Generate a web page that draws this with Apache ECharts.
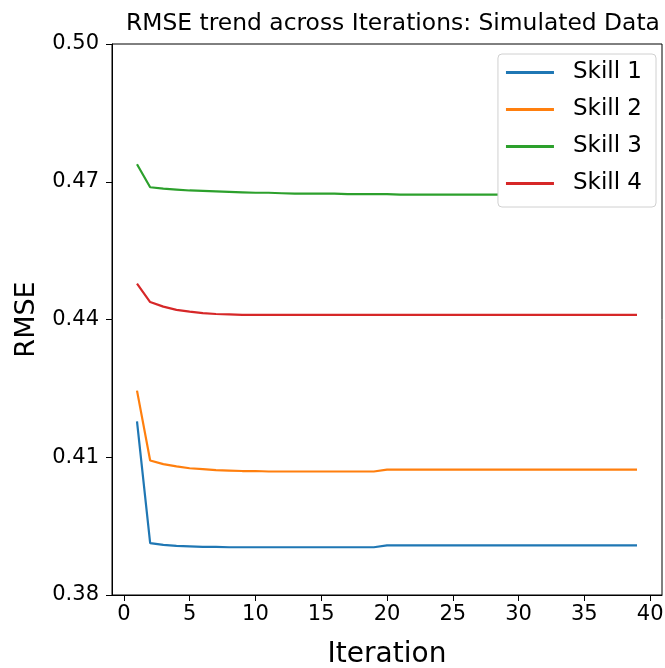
<!DOCTYPE html>
<html>
<head>
<meta charset="utf-8">
<script src="https://cdn.jsdelivr.net/npm/echarts@6/dist/echarts.min.js"></script>
<style>
  html, body { margin: 0; padding: 0; background: #fff; }
  #chart { width: 665px; height: 668px; }
</style>
</head>
<body>
<div id="chart"></div>
<script>
const iterations = Array.from({ length: 39 }, (_, i) => i + 1);

const skillNames = ['Skill 1', 'Skill 2', 'Skill 3', 'Skill 4'];
const skillColors = ['#1f77b4', '#ff7f0e', '#2ca02c', '#d62728'];

const skill1 = [
  0.4178, 0.3913, 0.3909, 0.3907, 0.3906, 0.3905, 0.3905, 0.3904, 0.3904, 0.3904,
  0.3904, 0.3904, 0.3904, 0.3904, 0.3904, 0.3904, 0.3904, 0.3904, 0.3904, 0.3908,
  0.3908, 0.3908, 0.3908, 0.3908, 0.3908, 0.3908, 0.3908, 0.3908, 0.3908, 0.3908,
  0.3908, 0.3908, 0.3908, 0.3908, 0.3908, 0.3908, 0.3908, 0.3908, 0.3908
];
const skill2 = [
  0.4245, 0.4093, 0.4085, 0.4080, 0.4076, 0.4074, 0.4072, 0.4071, 0.4070, 0.4070,
  0.4069, 0.4069, 0.4069, 0.4069, 0.4069, 0.4069, 0.4069, 0.4069, 0.4069, 0.4073,
  0.4073, 0.4073, 0.4073, 0.4073, 0.4073, 0.4073, 0.4073, 0.4073, 0.4073, 0.4073,
  0.4073, 0.4073, 0.4073, 0.4073, 0.4073, 0.4073, 0.4073, 0.4073, 0.4073
];
const skill3 = [
  0.4738, 0.4688, 0.4685, 0.4683, 0.4681, 0.4680, 0.4679, 0.4678, 0.4677, 0.4676,
  0.4676, 0.4675, 0.4674, 0.4674, 0.4674, 0.4674, 0.4673, 0.4673, 0.4673, 0.4673,
  0.4672, 0.4672, 0.4672, 0.4672, 0.4672, 0.4672, 0.4672, 0.4672, 0.4672, 0.4672,
  0.4672, 0.4672, 0.4672, 0.4672, 0.4672, 0.4672, 0.4672, 0.4672, 0.4672
];
const skill4 = [
  0.4478, 0.4438, 0.4428, 0.4421, 0.4417, 0.4414, 0.4412, 0.4411, 0.4410, 0.4410,
  0.4410, 0.4410, 0.4410, 0.4410, 0.4410, 0.4410, 0.4410, 0.4410, 0.4410, 0.4410,
  0.4410, 0.4410, 0.4410, 0.4410, 0.4410, 0.4410, 0.4410, 0.4410, 0.4410, 0.4410,
  0.4410, 0.4410, 0.4410, 0.4410, 0.4410, 0.4410, 0.4410, 0.4410, 0.4410
];
const skillValues = [skill1, skill2, skill3, skill4];

const xTicks = [0, 5, 10, 15, 20, 25, 30, 35, 40];
const yTicks = [0.38, 0.41, 0.44, 0.47, 0.50];

const font = 'DejaVu Sans';
const chart = echarts.init(document.getElementById('chart'));

chart.setOption({
  animation: false,
  title: {
    text: 'RMSE trend across Iterations: Simulated Data',
    left: 388,
    top: 7,
    textAlign: 'center',
    textStyle: { fontFamily: font, fontSize: 23.4, fontWeight: 'normal', color: '#000' }
  },
  grid: {
    left: 112, right: 3, top: 44, bottom: 73,
    outerBoundsMode: 'none',
    containLabel: false,
    show: true, borderColor: '#000', borderWidth: 1
  },
  legend: {
    orient: 'vertical',
    right: 9,
    top: 54,
    padding: [7, 14, 12, 8],
    itemGap: 14,
    itemWidth: 48,
    itemHeight: 3,
    icon: 'rect',
    backgroundColor: '#fff',
    borderColor: '#d0d0d0',
    borderWidth: 1,
    borderRadius: 4,
    textStyle: { fontFamily: font, fontSize: 23, lineHeight: 23, color: '#000', padding: [0, 0, 0, 14] },
    data: skillNames
  },
  xAxis: {
    type: 'value',
    min: -0.9,
    max: 40.9,
    name: 'Iteration',
    nameLocation: 'middle',
    nameGap: 46,
    nameTextStyle: { fontFamily: font, fontSize: 28, color: '#000' },
    axisLine: { show: true, onZero: false, lineStyle: { color: '#000' } },
    axisTick: { show: true, length: 6, lineStyle: { color: '#000' }, customValues: xTicks },
    axisLabel: { fontFamily: font, fontSize: 21, color: '#000', margin: 9, customValues: xTicks },
    splitLine: { show: false }
  },
  yAxis: {
    type: 'value',
    min: 0.38,
    max: 0.50,
    name: 'RMSE',
    nameLocation: 'middle',
    nameGap: 72,
    nameTextStyle: { fontFamily: font, fontSize: 27, color: '#000' },
    axisLine: { show: true, onZero: false, lineStyle: { color: '#000' } },
    axisTick: { show: true, length: 6, lineStyle: { color: '#000' }, customValues: yTicks },
    axisLabel: {
      fontFamily: font, fontSize: 21, color: '#000', margin: 13,
      customValues: yTicks,
      formatter: v => v.toFixed(2)
    },
    splitLine: { show: false }
  },
  series: skillNames.map((name, i) => ({
    name,
    type: 'line',
    showSymbol: false,
    symbol: 'none',
    color: skillColors[i],
    lineStyle: { width: 2.2, color: skillColors[i] },
    data: iterations.map((it, j) => [it, skillValues[i][j]])
  }))
});
</script>
</body>
</html>
